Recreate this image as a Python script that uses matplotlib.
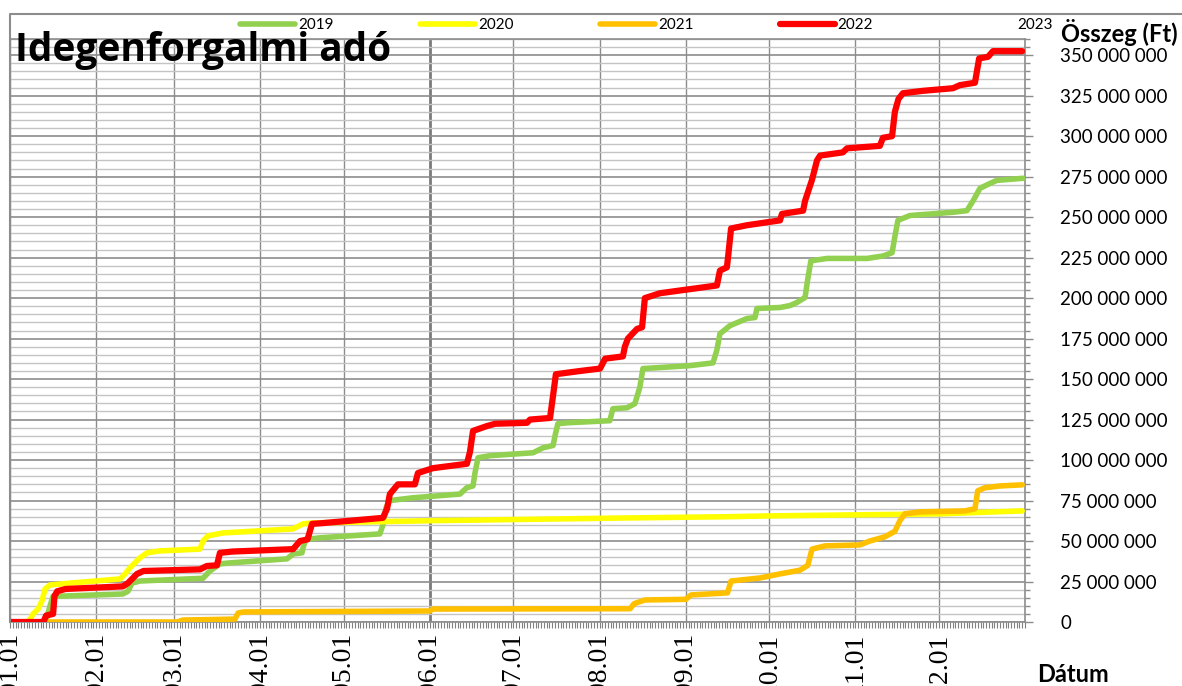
import matplotlib
matplotlib.use("Agg")
import numpy as np
import matplotlib.pyplot as plt
import matplotlib.transforms as mtransforms
from matplotlib.ticker import FixedLocator, MultipleLocator, FuncFormatter
from matplotlib.lines import Line2D

plt.rcParams['font.family'] = ['Lato', 'DejaVu Sans']

years = ["2019", "2020", "2021", "2022", "2023"]
colors = ["#92D050", "#FFFF00", "#FFC000", "#FF0000", "none"]

# day of the year (0 = 01.01) and cumulative amount in million Ft
days_2019 = [0, 12.6, 13.3, 14.4, 15.5, 19, 40.6, 42.4, 43.9, 46.7, 69.4, 71.9, 75.5, 79.1,
             99.6, 101.8, 105, 105.4, 106.4, 111.5, 133, 134.1, 135.2, 136.6, 144.9, 161.8,
             164.3, 166.5, 167.2, 168.3, 172.6, 188.1, 191.7, 195.3, 196, 197, 200.3, 215.7,
             216.8, 221.9, 224.7, 226.5, 227.6, 232.6, 244.5, 252.8, 254.2, 255.3, 258.9, 265,
             267.9, 268.6, 276.9, 280.5, 283, 285.9, 286.9, 288, 293.8, 308.2, 313.9, 317.2,
             318.2, 319.3, 323.6, 339.1, 344.1, 346.3, 348.8, 352.4, 354.9, 364.3]
vals_2019 = [0, 0, 3, 10, 16, 16, 17.3, 19, 24, 25.3, 27, 31.5, 35.9, 36.5,
             39, 42, 42.7, 46, 51, 52, 54.4, 60, 70.5, 75, 76.7, 79,
             83, 84, 92, 101.4, 102.7, 104.5, 107.6, 109, 115, 122.4, 123, 124.3,
             131.7, 132.3, 134.8, 145, 156.5, 157, 158.3, 160, 168, 178, 183, 187.4,
             188, 193.6, 194.2, 195.4, 197.3, 200.4, 212, 223, 224.5, 224.5, 226, 228,
             238, 248, 251, 253, 254, 260, 267.8, 270.8, 272.7, 274]

days_2020 = [0, 6, 7.2, 8.3, 10.1, 11.5, 12.6, 14.4, 21.6, 39.6, 41.4, 43.1, 46.7, 49.3,
             53.9, 68.3, 69.4, 71.2, 76.6, 101.8, 105.4, 109, 153.5, 224, 257.8, 272.2,
             334.4, 364]
vals_2020 = [0, 0, 1.5, 5, 8, 13, 20.4, 22.9, 24, 26.6, 29.7, 33.4, 39.6, 42.7,
             43.9, 45, 50, 53.2, 55, 57.5, 60.6, 61.2, 62.6, 64.3, 65, 65.5,
             66.8, 68.6]

days_2021 = [0, 60, 62.2, 80.9, 82, 84, 151, 152.1, 223, 224.4, 228.3, 243, 244.9, 258,
             259.3, 269.7, 276.9, 284.1, 286.9, 288.4, 293.1, 305.6, 309.2, 314.6, 318.2,
             320, 321.8, 327.2, 343.4, 347, 348, 350.6, 356, 364]
vals_2021 = [0, 0, 1.2, 1.8, 5.5, 6.2, 6.8, 8, 8.2, 11.3, 13.6, 14, 16.7, 18,
             25.3, 27.2, 29.7, 32, 35, 45, 47, 47.6, 50, 52.6, 56,
             62.5, 66.8, 68, 68.6, 69.9, 81, 82.9, 84, 84.7]

days_2022 = [0, 12, 13, 15.5, 16, 17, 20, 40.6, 42.4, 45.7, 48, 68.3, 70.8, 74.4, 75.5, 80,
             101.8, 104.3, 107, 108.6, 112, 134.1, 135.6, 136.6, 139.5, 145.6, 146.7,
             152.1, 164.3, 165.4, 166.5, 171.5, 174.4, 185.9, 187, 194.2, 195.3, 196.3,
             205, 212.2, 214, 220.4, 221.1, 222.2, 225.5, 227.3, 228.3, 233.7, 240.9,
             254.2, 255.3, 257.8, 258.2, 259.3, 265, 276.9, 277.6, 285.2, 285.9, 288.4,
             290.2, 291.3, 299.5, 301, 312.8, 313.9, 317.2, 318.2, 319.5, 321.1, 328.3,
             339.1, 341.6, 347, 347.7, 348.5, 351.7, 353.5, 364]
vals_2022 = [0, 0, 4, 5, 16, 19, 20.4, 22, 24, 29.7, 31.5, 32.5, 34.6, 35, 42.7, 43.5,
             45, 50, 51, 60.6, 61, 64.3, 70, 79, 85, 85, 92,
             95, 97.7, 105, 118, 121, 122.4, 123, 125, 126, 140, 153,
             155, 156.5, 162.6, 164, 170, 175, 181, 182, 200, 203, 204.7,
             207.8, 217, 219, 225, 243, 245, 248, 252, 254, 260, 273,
             285, 288, 290, 292.5, 294, 299, 300, 315, 323, 326.5, 328,
             329.6, 331.5, 333, 340, 348, 349, 352.5, 352.5]

days_2023 = []
vals_2023 = []

month_days = [0, 31, 59, 90, 120, 151, 181, 212, 243, 273, 304, 334]
month_labels = ["01.01", "02.01", "03.01", "04.01", "05.01", "06.01",
                "07.01", "08.01", "09.01", "10.01", "11.01", "12.01"]

series_days = [days_2019, days_2020, days_2021, days_2022, days_2023]
series_vals = [vals_2019, vals_2020, vals_2021, vals_2022, vals_2023]

W, H = 1182, 686
fig = plt.figure(figsize=(W / 100, H / 100), dpi=100)
L, R, B, T = 10, 1025, 622, 39
ax = fig.add_axes([L / W, 1 - B / H, (R - L) / W, (B - T) / H])

grid_dark = "#8c8c8c"
grid_light = "#c4c4c4"

handles = []
for i, (yr, c, d, v) in enumerate(zip(years, colors, series_days, series_vals)):
    lw = 4.5 if yr == "2022" else 4
    ln, = ax.plot(d, [x * 1e6 for x in v], color=c, lw=lw, label=yr,
                  solid_capstyle='round', solid_joinstyle='round', zorder=3 + i)
    handles.append(ln)

ax.set_xlim(0, 365)
ax.set_ylim(0, 360e6)

ax.yaxis.tick_right()
ax.yaxis.set_major_locator(FixedLocator(np.arange(0, 350e6 + 1, 25e6)))
ax.yaxis.set_minor_locator(MultipleLocator(5e6))
ax.yaxis.set_major_formatter(FuncFormatter(lambda v, p: f"{v:,.0f}".replace(",", " ")))

ax.set_xticks(month_days)
ax.set_xticklabels(month_labels, rotation=90, fontfamily='Liberation Serif', fontsize=20)
ax.xaxis.set_minor_locator(MultipleLocator(1))
shift = mtransforms.ScaledTranslation(6 / 100, 0, fig.dpi_scale_trans)
for lbl in ax.get_xticklabels():
    lbl.set_transform(lbl.get_transform() + shift)

ax.set_axisbelow(True)
ax.yaxis.grid(True, which='major', color=grid_dark, lw=1.2)
ax.yaxis.grid(True, which='minor', color=grid_light, lw=1.0)
ax.xaxis.grid(True, which='major', color=grid_dark, lw=1.0)
ax.xaxis.grid(False, which='minor')
gl = ax.xaxis.get_gridlines()
gl[5].set_linewidth(2.0)
gl[5].set_color("#7a7a7a")

ax.tick_params(axis='y', which='major', direction='out', length=6, width=1,
               color=grid_dark, pad=19.5, labelsize=13.5, labelcolor='black')
ax.tick_params(axis='y', which='minor', direction='out', length=3.5, width=1,
               color=grid_dark)
ax.tick_params(axis='x', which='both', direction='out', length=4.5, width=0.8,
               color='#808080', pad=3.5)

for s in ['left', 'right', 'bottom', 'top']:
    ax.spines[s].set_color(grid_dark)
    ax.spines[s].set_linewidth(1.2)
# chart-area frame
fig.add_artist(Line2D([L / W, L / W, 1], [1 - B / H, 1 - 14 / H, 1 - 14 / H],
                      color=grid_dark, lw=1.5))

leg = ax.legend(handles, years, ncol=5, loc='center left',
                bbox_to_anchor=(240 / W, 1 - 25 / H), bbox_transform=fig.transFigure,
                frameon=False, fontsize=11, handlelength=3.6, handletextpad=0.2,
                columnspacing=5.65, borderpad=0, borderaxespad=0)

fig.text(15 / W, 1 - 61 / H, "Idegenforgalmi adó", fontsize=28, fontweight='bold',
         fontfamily=['Open Sans', 'DejaVu Sans'], ha='left', va='baseline')
fig.text(1061 / W, 1 - 42 / H, "Összeg (Ft)", fontsize=17, fontweight='bold',
         ha='left', va='baseline')
fig.text(1037 / W, 1 - 682 / H, "Dátum", fontsize=17, fontweight='bold',
         ha='left', va='baseline')

fig.savefig("out.png", dpi=100)
